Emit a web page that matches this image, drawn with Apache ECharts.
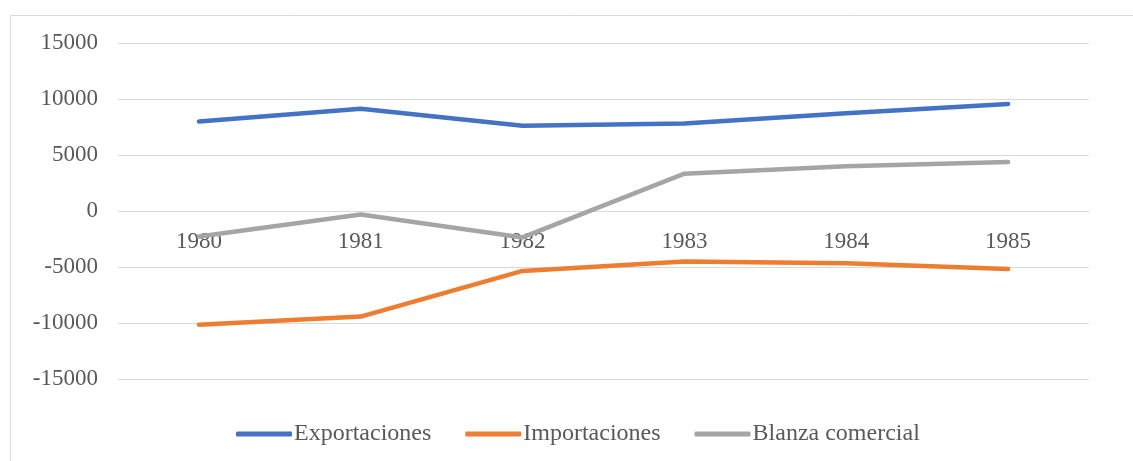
<!DOCTYPE html>
<html>
<head>
<meta charset="utf-8">
<script src="https://cdn.jsdelivr.net/npm/echarts@6/dist/echarts.min.js"></script>
<style>
  html, body { margin: 0; padding: 0; background: #fff; }
  #chart { width: 1133px; height: 461px; }
</style>
</head>
<body>
<div id="chart"></div>
<script>
const years = ['1980', '1981', '1982', '1983', '1984', '1985']
const exportaciones = [8000, 9130, 7620, 7820, 8720, 9560]
const importaciones = [-10150, -9430, -5350, -4510, -4660, -5170]
const balanza = [-2280, -320, -2360, 3330, 4000, 4380]
const seriesNames = ['Exportaciones', 'Importaciones', 'Blanza comercial']
const colorList = ['#4472C4', '#ED7D31', '#A5A5A5']

const font = '"Liberation Serif", "DejaVu Serif", serif'
const chart = echarts.init(document.getElementById('chart'))

function lineSeries(name, data, color) {
  return {
    name: name,
    type: 'line',
    data: data,
    symbol: 'none',
    showSymbol: false,
    lineStyle: { width: 4.5, color: color, cap: 'round', join: 'round' },
    itemStyle: { color: color },
  }
}

chart.setOption({
  backgroundColor: '#fff',
  animation: false,
  graphic: [
    {
      type: 'rect',
      shape: { x: 10.5, y: 15.5, width: 1200, height: 500 },
      style: { fill: 'none', stroke: '#D9D9D9', lineWidth: 1 },
      silent: true,
    },
  ],
  grid: { left: 118, right: 44, top: 43, bottom: 82 },
  legend: {
    bottom: 10,
    left: 231,
    icon: 'roundRect',
    itemWidth: 56,
    itemHeight: 5,
    itemGap: 34,
    textStyle: { fontFamily: font, fontSize: 24, color: '#595959', padding: [0, 0, 0, -3] },
    data: seriesNames,
  },
  xAxis: {
    type: 'category',
    data: years,
    boundaryGap: true,
    // the axis sits on the zero line (168px above the grid bottom)
    offset: -168,
    axisLine: { onZero: false, lineStyle: { color: '#D9D9D9' } },
    axisTick: { show: false },
    axisLabel: { fontFamily: font, fontSize: 23, color: '#595959', margin: 19 },
  },
  yAxis: {
    type: 'value',
    min: -15000,
    max: 15000,
    interval: 5000,
    axisLine: { show: false },
    axisTick: { show: false },
    splitLine: { lineStyle: { color: '#D9D9D9', width: 1 } },
    axisLabel: {
      fontFamily: font,
      fontSize: 23,
      color: '#595959',
      margin: 20,
      formatter: (v) => String(v),
    },
  },
  series: [
    lineSeries(seriesNames[0], exportaciones, colorList[0]),
    lineSeries(seriesNames[1], importaciones, colorList[1]),
    lineSeries(seriesNames[2], balanza, colorList[2]),
  ],
})
</script>
</body>
</html>
